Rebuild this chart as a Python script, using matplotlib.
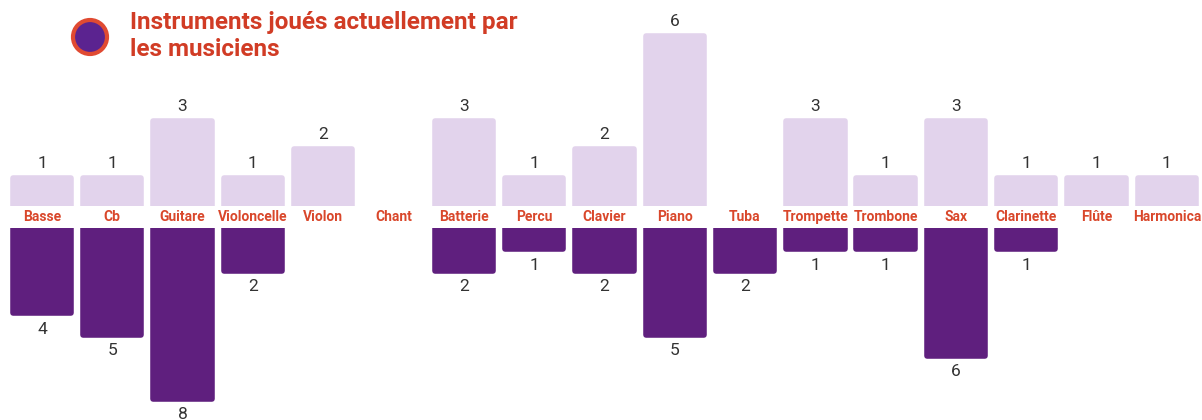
import numpy as np
import matplotlib
matplotlib.use("Agg")
import matplotlib.pyplot as plt
from matplotlib.patches import Circle

instruments = ["Basse", "Cb", "Guitare", "Violoncelle", "Violon", "Chant",
               "Batterie", "Percu", "Clavier", "Piano", "Tuba", "Trompette",
               "Trombone", "Sax", "Clarinette", "Flûte", "Harmonica"]
# light bars (top)
haut = [1, 1, 3, 1, 2, 0, 3, 1, 2, 6, 0, 3, 1, 3, 1, 1, 1]
# dark bars (bottom)
bas = [4, 5, 8, 2, 0, 0, 2, 1, 2, 5, 2, 1, 1, 6, 1, 0, 0]

light = "#e2d3ec"
dark = "#5f1f7e"
red = "#d9472b"

plt.rcParams["font.family"] = ["Roboto", "DejaVu Sans"]

fig = plt.figure(figsize=(12.02, 4.2), dpi=100)
x = np.arange(len(instruments))
xlim = (-0.597, 16.5)

# top axes
ax1 = fig.add_axes([0, 0.5095, 1, 0.4905])
ax1.bar(x, haut, width=0.83, color=light, edgecolor=light,
        linewidth=[4 if v else 0 for v in haut], joinstyle="round")
ax1.set_xlim(*xlim)
ax1.set_ylim(0, 7.25)
for xi, v in zip(x, haut):
    if v > 0:
        ax1.annotate(str(v), (xi, v), xytext=(0, 5), textcoords="offset points",
                     ha="center", va="bottom", fontsize=12.5, color="#333333")
ax1.axis("off")

# bottom axes
ax2 = fig.add_axes([0, 0, 1, 0.457])
ax2.bar(x, [-v for v in bas], width=0.83, color=dark, edgecolor=dark,
        linewidth=[4 if v else 0 for v in bas], joinstyle="round")
ax2.set_xlim(*xlim)
ax2.set_ylim(-9.0, 0)
for xi, v in zip(x, bas):
    if v > 0:
        ax2.annotate(str(v), (xi, -v), xytext=(0, -6), textcoords="offset points",
                     ha="center", va="top", fontsize=12.5, color="#333333")
ax2.axis("off")

# category labels between the two
for xi, name in zip(x, instruments):
    ax1.annotate(name, (xi, 0), xytext=(0, -8), textcoords="offset points",
                 ha="center", va="center", fontsize=10, color=red,
                 fontweight="bold")

# title with circle
circ = Circle((0.90, 4.2 - 0.37), 0.17, transform=fig.dpi_scale_trans,
              facecolor="#5b2390", edgecolor="#e04a32", linewidth=3, zorder=5)
fig.add_artist(circ)
fig.text(130 / 1202, 1 - 11 / 420, "Instruments joués actuellement par\nles musiciens",
         ha="left", va="top", fontsize=17.5, fontweight="bold", color="#d13c25",
         linespacing=1.2)

fig.savefig("out.png", dpi=100)
